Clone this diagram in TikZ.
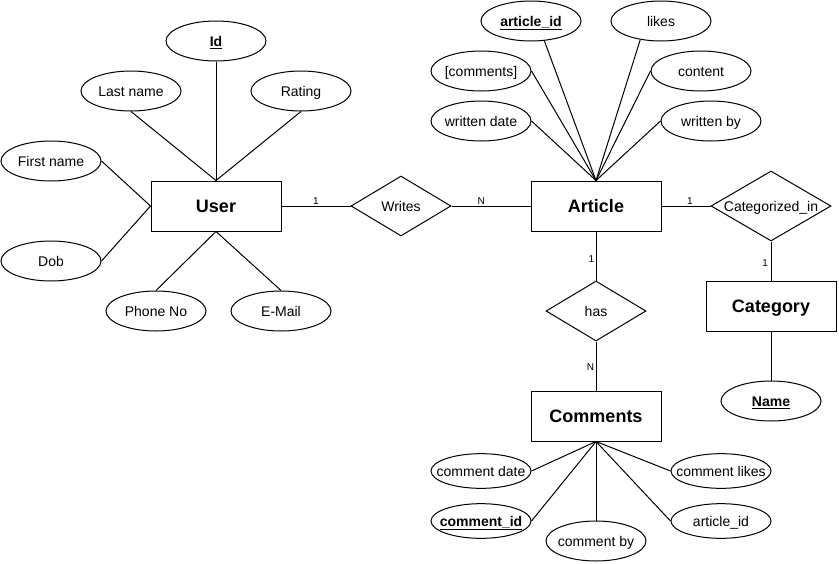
\documentclass[tikz,border=0pt]{standalone}
\usepackage{fontspec}
\setmainfont{Liberation Sans}
\usetikzlibrary{shapes.geometric}

\begin{document}
\begin{tikzpicture}[
  x=0.75pt,y=-0.75pt,
  link/.style={draw=black,line width=0.75pt},
  fixtext/.style={execute at begin node={\hbox to 0pt\bgroup\hss},execute at end node={\hss\egroup}},
  entity/.style={draw,line width=0.75pt,fill=white,minimum width=97.5pt,minimum height=37.5pt,
                 inner sep=0pt,text height=9.7pt,text depth=0pt,font=\fontsize{13.5}{16}\selectfont\bfseries},
  attr/.style={ellipse,draw,line width=0.75pt,fill=white,minimum width=75pt,minimum height=30pt,
               inner sep=0pt,fixtext,text height=7.6pt,text depth=0pt,font=\fontsize{10.5}{12}\selectfont},
  sattr/.style={attr,minimum height=26pt},
  rel/.style={diamond,draw,line width=0.75pt,fill=white,minimum width=75pt,minimum height=45pt,
              inner sep=0pt,fixtext,text height=7.6pt,text depth=0pt,font=\fontsize{10.5}{12}\selectfont},
  card/.style={font=\fontsize{7.5}{9}\selectfont,inner sep=1pt}
]
\useasboundingbox (0,0) rectangle (839,564);
% ---------- entities
\node[entity] (User)     at (216,206) {User};
\node[entity] (Article)  at (596,206) {Article};
\node[entity] (Category) at (771,306) {Category};
\node[entity] (Comments) at (596,416) {Comments};
% ---------- relationships
\node[rel] (Writes) at (401,206) {Writes};
\node[rel,minimum width=90pt,minimum height=52.5pt] (CatIn) at (771,206) {Categorized\_in};
\node[rel] (Has) at (596,311) {has};
% ---------- user attributes
\node[attr] (Id)        at (216,41)  {\underline{\textbf{Id}}};
\node[attr] (LastName)  at (131,91)  {Last name};
\node[attr] (Rating)    at (301,91)  {Rating};
\node[attr] (FirstName) at (51,161)  {First name};
\node[attr] (Dob)       at (51,261)  {Dob};
\node[attr] (PhoneNo)   at (156,311) {Phone No};
\node[attr] (EMail)     at (281,311) {E-Mail};
% ---------- article attributes
\node[attr] (ArticleId)   at (531,21)  {\underline{\textbf{article\_id}}};
\node[attr] (Likes)       at (661,21)  {likes};
\node[attr] (CommentList) at (481,71)  {[comments]};
\node[attr] (Content)     at (701,71)  {content};
\node[attr] (WrittenDate) at (481,121) {written date};
\node[attr] (WrittenBy)   at (711,121) {written by};
% ---------- category attributes
\node[attr] (Name) at (771,401) {\underline{\textbf{Name}}};
% ---------- comment attributes
\node[sattr] (CDate)  at (481,471) {comment date};
\node[sattr] (CLikes) at (721,471) {comment likes};
\node[sattr] (CId)    at (481,521) {\underline{\textbf{comment\_id}}};
\node[sattr] (CArtId) at (721,521) {article\_id};
\node[attr]  (CBy)    at (596,541) {comment by};
% ---------- links
\draw[link] (Id.south) -- (User.north);
\draw[link] (LastName.south) -- (User.north);
\draw[link] (Rating.south) -- (User.north);
\draw[link] (FirstName.east) -- (User.west);
\draw[link] (Dob.east) -- (User.west);
\draw[link] (PhoneNo.north) -- (User.south);
\draw[link] (EMail.north) -- (User.south);
\draw[link] (ArticleId.304) -- (Article.north);
\draw[link] (Likes.222) -- (Article.north);
\draw[link] (CommentList.east) -- (Article.north);
\draw[link] (Content.west) -- (Article.north);
\draw[link] (WrittenDate.east) -- (Article.north);
\draw[link] (WrittenBy.west) -- (Article.north);
\draw[link] (Category.south) -- (Name.north);
\draw[link] (CDate.east) -- (Comments.south);
\draw[link] (CLikes.west) -- (Comments.south);
\draw[link] (CId.east) -- (Comments.south);
\draw[link] (CArtId.west) -- (Comments.south);
\draw[link] (CBy.north) -- (Comments.south);
% ---------- relationship links
\draw[link] (User.east) -- node[card,pos=0.5,above] {1} (Writes.west);
\draw[link] (Writes.east) -- node[card,pos=0.375,above] {N} (Article.west);
\draw[link] (Article.east) -- node[card,pos=0.58,above] {1} (CatIn.west);
\draw[link] (CatIn.south) -- node[card,pos=0.54,left,xshift=-1pt] {1} (Category.north);
\draw[link] (Article.south) -- node[card,pos=0.56,left] {1} (Has.north);
\draw[link] (Has.south) -- node[card,pos=0.52,left] {N} (Comments.north);
\end{tikzpicture}
\end{document}
